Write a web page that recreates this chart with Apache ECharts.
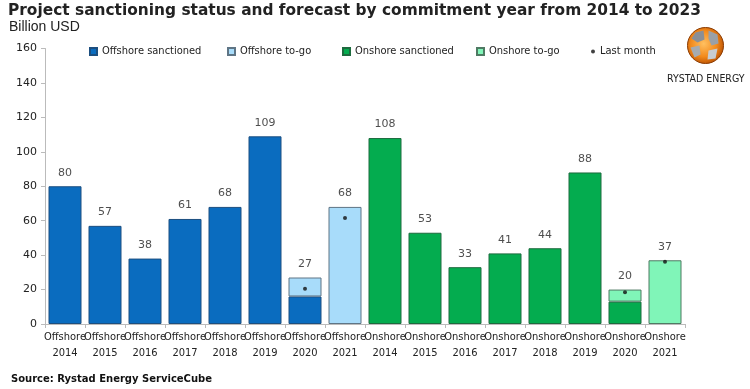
<!DOCTYPE html>
<html>
<head>
<meta charset="utf-8">
<script src="https://cdn.jsdelivr.net/npm/echarts@6/dist/echarts.min.js"></script>
<style>html,body{margin:0;padding:0;background:#fff}#c{width:750px;height:389px}</style>
</head>
<body>
<div id="c"></div>
<script>
var categories = ['Offshore\n2014','Offshore\n2015','Offshore\n2016','Offshore\n2017','Offshore\n2018','Offshore\n2019','Offshore\n2020','Offshore\n2021',
  'Onshore\n2014','Onshore\n2015','Onshore\n2016','Onshore\n2017','Onshore\n2018','Onshore\n2019','Onshore\n2020','Onshore\n2021'];
var offshoreSanctioned = [80,57,38,61,68,109,16,null,null,null,null,null,null,null,null,null];
var offshoreToGo       = [null,null,null,null,null,null,11,68,null,null,null,null,null,null,null,null];
var onshoreSanctioned  = [null,null,null,null,null,null,null,null,108,53,33,41,44,88,13,null];
var onshoreToGo        = [null,null,null,null,null,null,null,null,null,null,null,null,null,null,7,37];
var lastMonth          = [null,null,null,null,null,null,20.5,61.5,null,null,null,null,null,null,18.5,36.2];
var totals             = [80,57,38,61,68,109,27,68,108,53,33,41,44,88,20,37];
var yTicks = {min:0, max:160, interval:20};

var chart = echarts.init(document.getElementById('c'));
var FONT = 'DejaVu Sans';
var COND = 'DejaVu Sans Condensed';
function barSeries(name, data, color, bc){
  return {name:name, type:'bar', stack:'s', data:data, barWidth:33,
    itemStyle:{color:color, borderColor:bc, borderWidth:1}};
}
function legendAt(name, left, icon, size){
  return {data:[{name:name, icon:icon||'rect'}], left:left, top:41, itemWidth:size||7, itemHeight:size||7, itemGap:3,
    textStyle:{fontFamily:COND, fontSize:11, color:'#222'}, selectedMode:false};
}
chart.setOption({
  animation:false,
  title:[
    {text:'Project sanctioning status and forecast by commitment year from 2014 to 2023', left:3, top:-2,
     textStyle:{fontFamily:FONT, fontWeight:'bold', fontSize:15.4, color:'#222'}},
    {text:'Billion USD', left:4, top:15, textStyle:{fontFamily:'Liberation Sans', fontWeight:'normal', fontSize:14, color:'#222'}},
    {text:'Source: Rystad Energy ServiceCube', left:6, top:369, textStyle:{fontFamily:FONT, fontWeight:'bold', fontSize:10, color:'#111'}}
  ],
  legend:[
    legendAt('Offshore sanctioned', 84),
    legendAt('Offshore to-go', 222),
    legendAt('Onshore sanctioned', 337),
    legendAt('Onshore to-go', 471),
    legendAt('Last month', 586, 'circle', 4)
  ],
  grid:{left:45, right:65, top:48.5, bottom:65},
  xAxis:{type:'category', data:categories,
    axisLine:{lineStyle:{color:'#bbb'}},
    axisTick:{show:true, alignWithLabel:false, length:4, lineStyle:{color:'#bbb'}},
    axisLabel:{fontFamily:COND, fontSize:11, color:'#222', lineHeight:16, interval:0, margin:5}},
  yAxis:{type:'value', min:yTicks.min, max:yTicks.max, interval:yTicks.interval,
    splitLine:{show:false},
    axisLine:{show:true, lineStyle:{color:'#bbb'}},
    axisTick:{show:true, length:4, lineStyle:{color:'#bbb'}},
    axisLabel:{fontFamily:FONT, fontSize:11, color:'#222', margin:8}},
  series:[
    barSeries('Offshore sanctioned', offshoreSanctioned, '#0a6cbf', '#1c4f80'),
    barSeries('Offshore to-go', offshoreToGo, '#a8dcfa', '#5f7585'),
    barSeries('Onshore sanctioned', onshoreSanctioned, '#04ac4f', '#1d6b3e'),
    barSeries('Onshore to-go', onshoreToGo, '#80f5b8', '#4f7a63'),
    {name:'Last month', type:'scatter', data:lastMonth, symbol:'circle', symbolSize:4, z:10,
      itemStyle:{color:'#111'}},
    {name:'totals', type:'scatter', data:totals, symbolSize:2, itemStyle:{color:'rgba(0,0,0,0)'}, z:11,
      label:{show:true, position:'top', distance:7, fontFamily:FONT, fontSize:11, color:'#222'}}
  ],
  graphic:[
    {type:'group', left:685, top:25, children:[
      {type:'circle', shape:{cx:18, cy:19, r:18}, style:{fill:{type:'radial', x:0.45, y:0.45, r:0.6,
        colorStops:[{offset:0,color:'#ffc060'},{offset:0.6,color:'#f28a1c'},{offset:1,color:'#b84e00'}]}}},
      {type:'polygon', shape:{points:[[8,6],[16,4],[17,13],[10,16],[4,12]]}, style:{fill:'#8a8f96'}},
      {type:'polygon', shape:{points:[[21,4],[30,8],[31,17],[24,19],[21,12]]}, style:{fill:'#9aa0a6'}},
      {type:'polygon', shape:{points:[[3,21],[12,19],[13,28],[7,31]]}, style:{fill:'#a6abb0'}},
      {type:'polygon', shape:{points:[[21,24],[30,22],[28,32],[20,33]]}, style:{fill:'#c8ccd0'}},
      {type:'circle', shape:{cx:18, cy:19, r:18}, style:{fill:'none', stroke:'#8a3a00', lineWidth:1}}
    ]},
    {type:'text', left:667, top:74, style:{text:'RYSTAD ENERGY', fontFamily:COND, fontSize:10.5, fill:'#222'}}
  ]
});
</script>
</body>
</html>
